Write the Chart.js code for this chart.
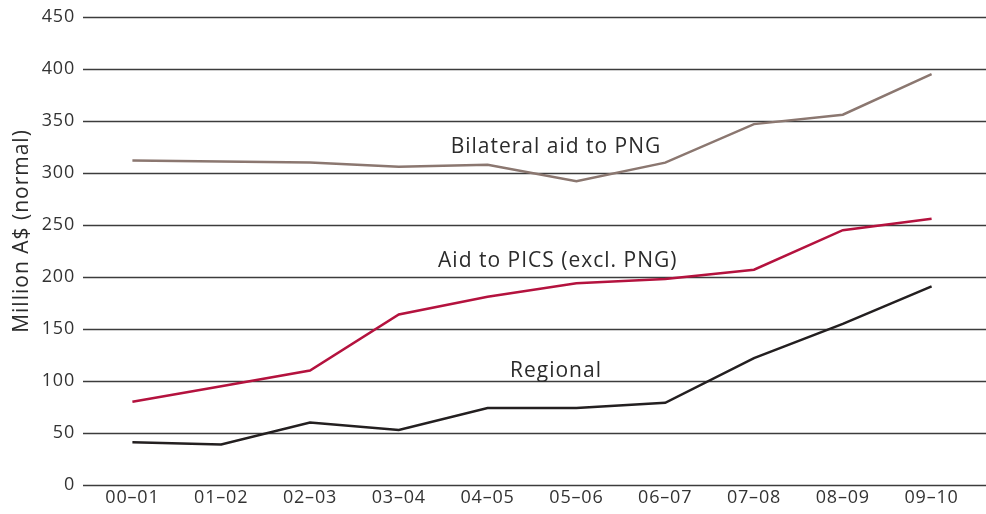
<!DOCTYPE html>
<html>
<head>
<meta charset="utf-8">
<script src="https://cdn.jsdelivr.net/npm/chart.js@4"></script>
<style>
html,body{margin:0;padding:0;background:#fff;}
#wrap{width:986px;height:514px;position:relative;}
</style>
</head>
<body>
<div id="wrap"><canvas id="c" width="986" height="514"></canvas></div>
<script>
const categories = ['00\u201301','01\u201302','02\u201303','03\u201304','04\u201305','05\u201306','06\u201307','07\u201308','08\u201309','09\u201310'];
const bilateralPNG = [312, 311, 310, 306, 308, 292, 310, 347, 356, 395];
const aidPICS = [80, 95, 110, 164, 181, 194, 198, 207, 245, 256];
const regional = [41, 39, 60, 53, 74, 74, 79, 122, 155, 191];
const yTicks = [0, 50, 100, 150, 200, 250, 300, 350, 400, 450];
const yTitle = 'Million A$ (normal)';
const seriesLabels = ['Bilateral aid to PNG', 'Aid to PICS (excl. PNG)', 'Regional'];
const labelAnchors = [{i:4.77, v:319}, {i:4.79, v:210}, {i:4.77, v:104}];

const FONT = "'Open Sans', 'Noto Sans', sans-serif";

const gridPlugin = {
  id: 'fullGrid',
  beforeDraw(chart) {
    chart.ctx.letterSpacing = '0.8px';
  },
  beforeDatasetsDraw(chart) {
    const ctx = chart.ctx, y = chart.scales.y;
    ctx.save();
    ctx.strokeStyle = '#3c3c3c';
    ctx.lineWidth = 1.4;
    yTicks.forEach(v => {
      const py = Math.round(y.getPixelForValue(v)) + 0.5;
      ctx.beginPath();
      ctx.moveTo(83, py);
      ctx.lineTo(chart.width, py);
      ctx.stroke();
    });
    ctx.restore();
  },
  afterDatasetsDraw(chart) {
    const ctx = chart.ctx, x = chart.scales.x, y = chart.scales.y;
    ctx.save();
    ctx.letterSpacing = '1px';
    ctx.fillStyle = '#2b2b2b';
    ctx.font = "21px " + FONT;
    ctx.textAlign = 'center';
    ctx.textBaseline = 'alphabetic';
    seriesLabels.forEach((t, k) => {
      const a = labelAnchors[k];
      const px = x.getPixelForValue(0) + (x.getPixelForValue(1) - x.getPixelForValue(0)) * a.i;
      ctx.fillText(t, px, y.getPixelForValue(a.v));
    });
    ctx.translate(28, 231);
    ctx.rotate(-Math.PI / 2);
    ctx.font = "21px " + FONT;
    ctx.fillText(yTitle, 0, 0);
    ctx.restore();
  }
};

new Chart(document.getElementById('c'), {
  type: 'line',
  data: {
    labels: categories,
    datasets: [
      {label: seriesLabels[0], data: bilateralPNG, borderColor: '#8b7770', borderWidth: 2.5, pointRadius: 0, tension: 0, fill: false},
      {label: seriesLabels[1], data: aidPICS, borderColor: '#b4123e', borderWidth: 2.5, pointRadius: 0, tension: 0, fill: false},
      {label: seriesLabels[2], data: regional, borderColor: '#231f20', borderWidth: 2.5, pointRadius: 0, tension: 0, fill: false}
    ]
  },
  options: {
    responsive: false,
    animation: false,
    devicePixelRatio: 1,
    layout: {padding: {top: 17, right: 10, left: 0, bottom: 0}},
    plugins: {legend: {display: false}, tooltip: {enabled: false}},
    scales: {
      x: {
        type: 'category',
        offset: true,
        grid: {display: false, drawTicks: false},
        border: {display: false},
        ticks: {color: '#333', font: {family: FONT, size: 18}, padding: 2, maxRotation: 0, autoSkip: false},
        afterFit(s) { s.height = 29; s.paddingLeft = 0; s.paddingRight = 0; }
      },
      y: {
        min: 0, max: 450,
        grid: {display: false, drawTicks: false},
        border: {display: false},
        afterBuildTicks(s) { s.ticks = yTicks.map(v => ({value: v})); },
        ticks: {color: '#333', font: {family: FONT, size: 18}, padding: 13},
        afterFit(s) { s.width = 88; s.paddingTop = 0; s.paddingBottom = 0; }
      }
    }
  },
  plugins: [gridPlugin]
});
</script>
</body>
</html>
